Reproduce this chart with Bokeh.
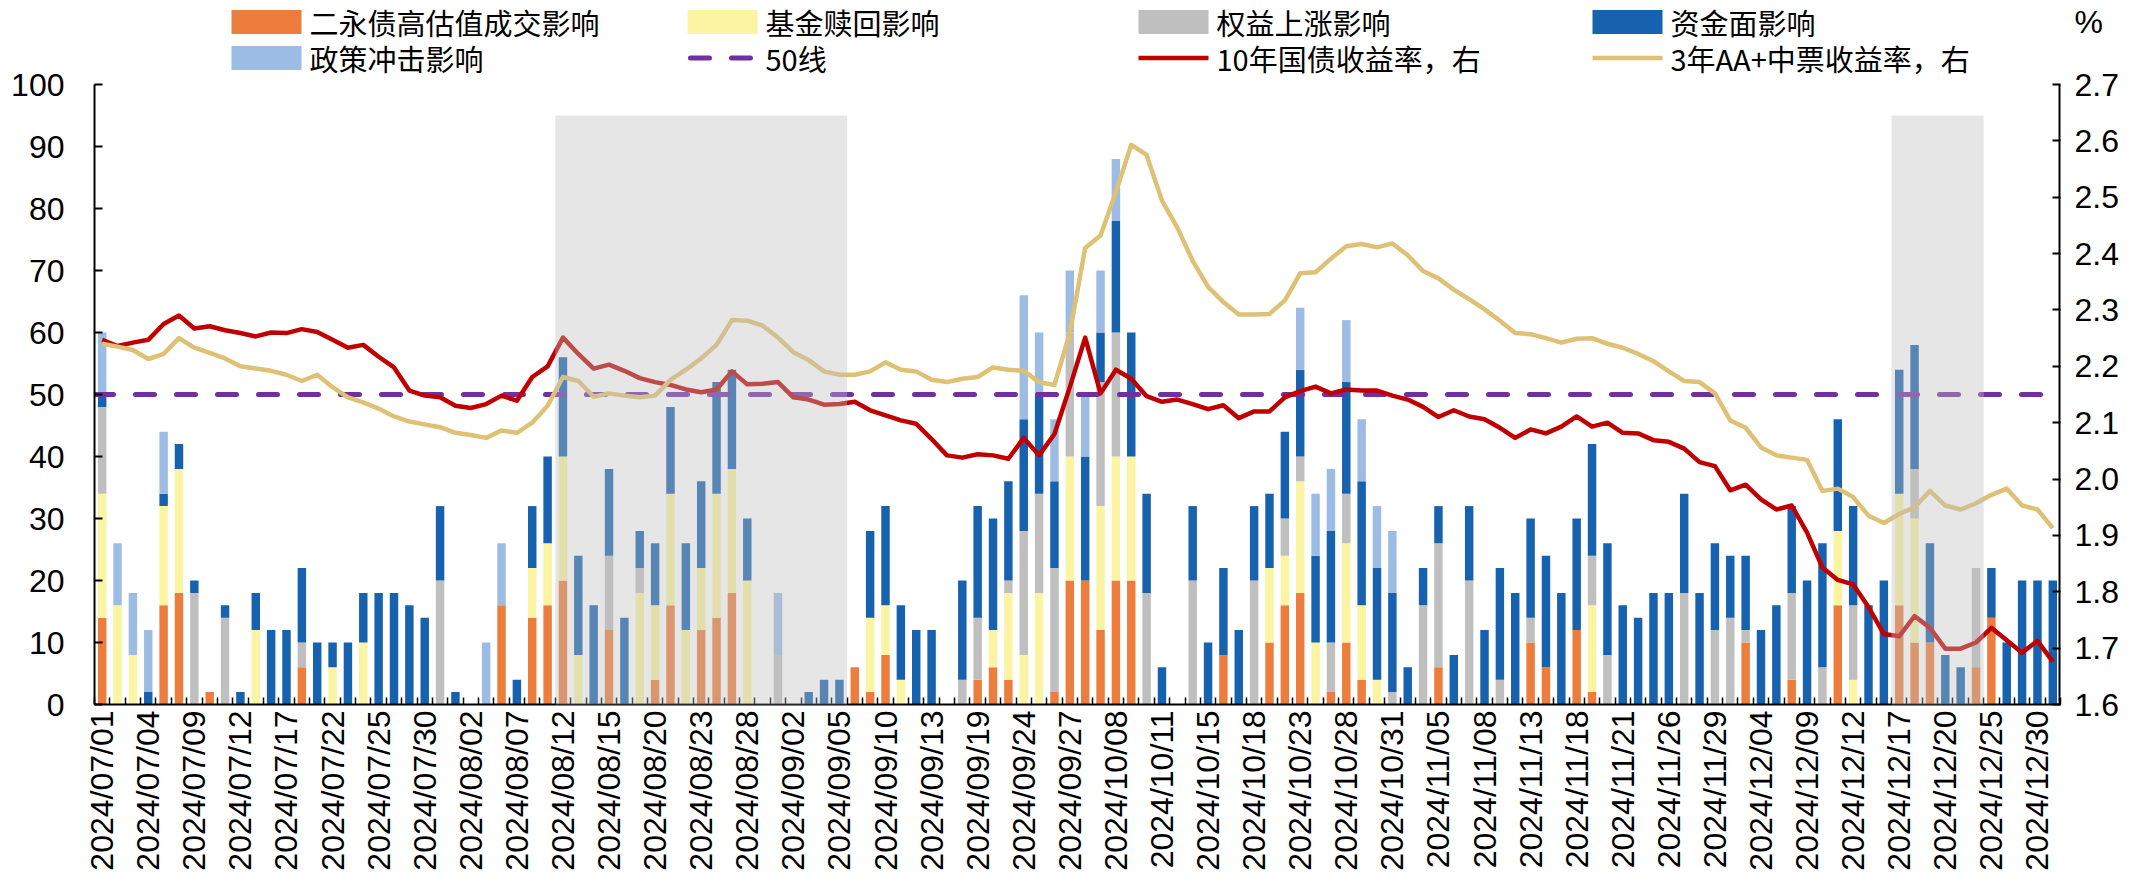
import math
from bokeh.plotting import figure
from bokeh.models import (ColumnDataSource, Range1d, LinearAxis, FixedTicker,
                          PrintfTickFormatter)
from bokeh.core.properties import value
from bokeh.embed import file_html
from bokeh.resources import INLINE

# ---------------- data ----------------
dates = (
    ["2024/07/%s" % d for d in ["01", "02", "03", "04", "05", "08", "09", "10", "11", "12", "15", "16", "17", "18", "19", "22", "23", "24", "25", "26", "29", "30", "31"]]
    + ["2024/08/%s" % d for d in ["01", "02", "05", "06", "07", "08", "09", "12", "13", "14", "15", "16", "19", "20", "21", "22", "23", "26", "27", "28", "29", "30"]]
    + ["2024/09/%s" % d for d in ["02", "03", "04", "05", "06", "09", "10", "11", "12", "13", "14", "18", "19", "20", "23", "24", "25", "26", "27", "29", "30"]]
    + ["2024/10/%s" % d for d in ["08", "09", "10", "11", "12", "14", "15", "16", "17", "18", "21", "22", "23", "24", "25", "28", "29", "30", "31"]]
    + ["2024/11/%s" % d for d in ["01", "04", "05", "06", "07", "08", "11", "12", "13", "14", "15", "18", "19", "20", "21", "22", "25", "26", "27", "28", "29"]]
    + ["2024/12/%s" % d for d in ["02", "03", "04", "05", "06", "09", "10", "11", "12", "13", "16", "17", "18", "19", "20", "23", "24", "25", "26", "27", "30", "31"]]
)

# 二永债高估值成交影响
erb_trade = [14, 0, 0, 0, 16, 18, 0, 2, 0, 0,
             0, 0, 0, 6, 0, 0, 0, 0, 0, 0,
             0, 0, 0, 0, 0, 0, 16, 0, 14, 16,
             20, 0, 0, 12, 0, 0, 4, 16, 0, 12,
             14, 18, 0, 0, 0, 0, 0, 0, 0, 6,
             2, 8, 0, 0, 0, 0, 0, 4, 6, 4,
             0, 0, 2, 20, 20, 12, 20, 20, 0, 0,
             0, 0, 0, 8, 0, 0, 10, 16, 18, 0,
             2, 10, 4, 0, 0, 0, 0, 6, 0, 0,
             0, 0, 0, 10, 6, 0, 12, 2, 0, 0,
             0, 0, 0, 0, 0, 0, 0, 10, 0, 0,
             4, 0, 0, 16, 0, 0, 0, 16, 10, 10,
             0, 0, 6, 14, 0, 0, 0, 0]
# 基金赎回影响
fund_redeem = [20, 16, 8, 0, 16, 20, 0, 0, 0, 0,
               12, 0, 0, 0, 0, 6, 0, 10, 0, 0,
               0, 0, 0, 0, 0, 0, 0, 0, 8, 10,
               20, 8, 0, 0, 0, 18, 12, 18, 12, 10,
               20, 20, 20, 0, 0, 0, 0, 0, 0, 0,
               12, 8, 4, 0, 0, 0, 0, 0, 6, 14,
               8, 18, 0, 20, 0, 20, 20, 20, 0, 0,
               0, 0, 0, 0, 0, 0, 12, 8, 18, 10,
               0, 16, 12, 4, 0, 0, 0, 0, 0, 0,
               0, 0, 0, 0, 0, 0, 0, 14, 0, 0,
               0, 0, 0, 0, 0, 0, 0, 0, 0, 0,
               0, 0, 0, 12, 4, 0, 0, 18, 20, 0,
               0, 0, 0, 0, 0, 0, 0, 0]
# 权益上涨影响
equity_rise = [14, 0, 0, 0, 0, 0, 18, 0, 14, 0,
               0, 0, 0, 4, 0, 0, 0, 0, 0, 0,
               0, 0, 20, 0, 0, 0, 0, 0, 0, 0,
               0, 0, 0, 12, 0, 4, 0, 0, 0, 0,
               0, 0, 0, 0, 8, 0, 0, 0, 0, 0,
               0, 0, 0, 0, 0, 0, 4, 10, 0, 2,
               20, 16, 20, 20, 0, 20, 20, 0, 18, 0,
               0, 20, 0, 0, 0, 20, 0, 6, 4, 0,
               8, 8, 0, 0, 2, 0, 16, 20, 0, 20,
               0, 4, 0, 4, 0, 0, 0, 8, 8, 0,
               0, 0, 0, 18, 0, 12, 14, 2, 0, 0,
               14, 0, 6, 0, 12, 0, 0, 0, 8, 0,
               0, 0, 16, 0, 0, 0, 0, 0]
# 资金面影响
liquidity = [2, 0, 0, 2, 2, 4, 2, 0, 2, 2,
             6, 12, 12, 12, 10, 4, 10, 8, 18, 18,
             16, 14, 12, 2, 0, 0, 0, 4, 10, 14,
             16, 16, 16, 14, 14, 6, 10, 14, 14, 14,
             18, 16, 10, 0, 0, 0, 2, 4, 4, 0,
             14, 16, 12, 12, 12, 0, 16, 18, 18, 16,
             18, 16, 14, 0, 20, 8, 18, 20, 16, 6,
             0, 12, 10, 14, 12, 12, 12, 14, 14, 14,
             18, 18, 20, 18, 16, 6, 6, 6, 8, 12,
             12, 18, 18, 16, 18, 18, 18, 18, 18, 16,
             14, 18, 18, 16, 18, 14, 10, 12, 12, 16,
             14, 20, 20, 18, 16, 16, 20, 20, 20, 16,
             8, 6, 0, 8, 10, 20, 20, 20]
# 政策冲击影响
policy_shock = [10, 10, 10, 10, 10, 0, 0, 0, 0, 0,
                0, 0, 0, 0, 0, 0, 0, 0, 0, 0,
                0, 0, 0, 0, 0, 10, 10, 0, 0, 0,
                0, 0, 0, 0, 0, 0, 0, 0, 0, 0,
                0, 0, 0, 0, 10, 0, 0, 0, 0, 0,
                0, 0, 0, 0, 0, 0, 0, 0, 0, 0,
                20, 10, 10, 10, 10, 10, 10, 0, 0, 0,
                0, 0, 0, 0, 0, 0, 0, 0, 10, 10,
                10, 10, 10, 10, 10, 0, 0, 0, 0, 0,
                0, 0, 0, 0, 0, 0, 0, 0, 0, 0,
                0, 0, 0, 0, 0, 0, 0, 0, 0, 0,
                0, 0, 0, 0, 0, 0, 0, 0, 0, 0,
                0, 0, 0, 0, 0, 0, 0, 0]
# 10年国债收益率（右轴, %）
cgb10y = [2.247, 2.236, 2.242, 2.247, 2.275, 2.290, 2.267, 2.271, 2.264, 2.259,
          2.253, 2.260, 2.259, 2.266, 2.261, 2.247, 2.233, 2.238, 2.217, 2.198,
          2.157, 2.148, 2.145, 2.130, 2.126, 2.133, 2.148, 2.139, 2.181, 2.200,
          2.251, 2.222, 2.196, 2.203, 2.192, 2.179, 2.172, 2.167, 2.159, 2.154,
          2.159, 2.191, 2.168, 2.169, 2.172, 2.145, 2.141, 2.132, 2.133, 2.137,
          2.122, 2.113, 2.104, 2.098, 2.071, 2.042, 2.038, 2.044, 2.042, 2.036,
          2.073, 2.042, 2.080, 2.163, 2.251, 2.152, 2.194, 2.178, 2.147, 2.137,
          2.141, 2.133, 2.124, 2.131, 2.108, 2.120, 2.120, 2.145, 2.156, 2.164,
          2.152, 2.159, 2.157, 2.157, 2.148, 2.141, 2.128, 2.110, 2.122, 2.111,
          2.106, 2.091, 2.073, 2.088, 2.081, 2.093, 2.111, 2.093, 2.100, 2.082,
          2.081, 2.069, 2.066, 2.054, 2.030, 2.023, 1.980, 1.990, 1.964, 1.946,
          1.953, 1.905, 1.843, 1.821, 1.813, 1.773, 1.725, 1.721, 1.757, 1.736,
          1.699, 1.699, 1.710, 1.736, 1.714, 1.692, 1.713, 1.676]
# 3年AA+中票收益率（右轴, %）
mtn3y = [2.240, 2.235, 2.229, 2.213, 2.222, 2.250, 2.233, 2.224, 2.214, 2.200,
         2.196, 2.192, 2.185, 2.174, 2.185, 2.163, 2.145, 2.136, 2.125, 2.111,
         2.102, 2.097, 2.092, 2.082, 2.078, 2.073, 2.086, 2.082, 2.100, 2.130,
         2.181, 2.174, 2.146, 2.152, 2.148, 2.145, 2.148, 2.176, 2.194, 2.214,
         2.238, 2.282, 2.281, 2.272, 2.251, 2.225, 2.211, 2.191, 2.185, 2.185,
         2.191, 2.207, 2.194, 2.191, 2.176, 2.172, 2.178, 2.181, 2.198, 2.194,
         2.192, 2.172, 2.167, 2.259, 2.410, 2.432, 2.509, 2.593, 2.575, 2.494,
         2.446, 2.387, 2.341, 2.314, 2.292, 2.292, 2.293, 2.317, 2.365, 2.367,
         2.391, 2.413, 2.417, 2.411, 2.418, 2.397, 2.369, 2.356, 2.336, 2.319,
         2.301, 2.281, 2.259, 2.257, 2.250, 2.242, 2.249, 2.250, 2.240, 2.233,
         2.222, 2.209, 2.191, 2.174, 2.172, 2.152, 2.104, 2.091, 2.056, 2.042,
         2.038, 2.034, 1.979, 1.983, 1.968, 1.935, 1.922, 1.938, 1.950, 1.979,
         1.953, 1.946, 1.957, 1.972, 1.983, 1.953, 1.946, 1.913]

threshold = 50
shade_periods = [("2024/08/12", "2024/09/05"), ("2024/12/17", "2024/12/24")]
shade_top = 95

left_ticks = list(range(0, 101, 10))
right_ticks = [1.6, 1.7, 1.8, 1.9, 2.0, 2.1, 2.2, 2.3, 2.4, 2.5, 2.6, 2.7]

series_keys = ["erb", "fund", "equity", "liq", "policy"]
series_names = ["二永债高估值成交影响", "基金赎回影响", "权益上涨影响", "资金面影响", "政策冲击影响"]
series_colors = ["#EC7D3C", "#FAF4A3", "#BFBFBF", "#1762AE", "#9CBCE3"]
line_names = ["50线", "10年国债收益率，右", "3年AA+中票收益率，右"]
PURPLE, RED, GOLD = "#7030A0", "#C00000", "#DEC175"

# ---------------- layout constants (canvas px) ----------------
TICK_FONT = "Liberation Sans"
CJK_FONT = "Noto Sans CJK SC"
W, H = 2126, 875
BORDER_L, BORDER_R = 94, 66
FRAME_BOTTOM = 704          # frame spans canvas y 0..704 (legend lives in its top part)
PX_AXIS_TOP = 84            # canvas y of the value 100 / 2.7
plot_px = FRAME_BOTTOM - PX_AXIS_TOP
left_lo, left_hi = left_ticks[0], left_ticks[-1]
right_lo, right_hi = right_ticks[0], right_ticks[-1]
left_top = left_lo + (left_hi - left_lo) * FRAME_BOTTOM / plot_px
right_top = right_lo + (right_hi - right_lo) * FRAME_BOTTOM / plot_px

n = len(dates)
idx = list(range(n))
src = ColumnDataSource(dict(x=idx, erb=erb_trade, fund=fund_redeem, equity=equity_rise,
                            liq=liquidity, policy=policy_shock, cgb=cgb10y, mtn=mtn3y))

p = figure(width=W, height=H, x_range=Range1d(-0.5, n - 0.5), y_range=Range1d(left_lo, left_top),
           output_backend="svg", toolbar_location=None,
           min_border_left=BORDER_L, min_border_right=BORDER_R,
           min_border_top=0, min_border_bottom=H - FRAME_BOTTOM)
p.extra_y_ranges = {"right": Range1d(right_lo, right_top), "py": Range1d(FRAME_BOTTOM, 0)}
p.extra_x_ranges = {"px": Range1d(BORDER_L, W - BORDER_R)}
p.outline_line_color = None
p.grid.visible = False

# ---------------- marks ----------------
p.vbar_stack(series_keys, x="x", width=0.55, fill_color=series_colors,
             line_color=None, source=src)
p.line(x=[idx[0] - 0.5, idx[-1] + 0.5], y=[threshold, threshold],
       line_color=PURPLE, line_width=5, line_dash="19 22", line_cap="round")
p.line(x="x", y="cgb", source=src, y_range_name="right",
       line_color=RED, line_width=4.5, line_join="round")
p.line(x="x", y="mtn", source=src, y_range_name="right",
       line_color=GOLD, line_width=4.5, line_join="round")

shade_left = [dates.index(s) - 0.5 for s, _ in shade_periods]
shade_right = [dates.index(e) + 0.5 for _, e in shade_periods]
p.quad(left=shade_left, right=shade_right, bottom=0, top=shade_top,
       fill_color="#BFBFBF", fill_alpha=0.39, line_color=None, level="overlay")

# right axis line (limited to the 1.6-2.7 span)
p.segment(x0=[n - 0.5], y0=[right_lo], x1=[n - 0.5], y1=[right_hi], y_range_name="right",
          line_color="black", line_width=4)

# ---------------- legend (pixel ranges, top of frame) ----------------
col_x = [231, 687, 1138, 1592]      # swatch left edges, px
row_y = [21.5, 57.5]                # row centres, px
SW, SH, GAP = 70, 24, 8
slots = [(c, r) for r in range(2) for c in range(4)]
labels = series_names[:4] + [series_names[4]] + line_names
lk = dict(x_range_name="px", y_range_name="py")

rect_slots = slots[:5]
p.rect(x=[col_x[c] + SW / 2 for c, r in rect_slots], y=[row_y[r] for c, r in rect_slots],
       width=SW, height=SH, fill_color=series_colors, line_color=None, **lk)
(c5, r5), (c6, r6), (c7, r7) = slots[5], slots[6], slots[7]
p.segment(x0=[col_x[c5] + 3], y0=[row_y[r5]], x1=[col_x[c5] + SW], y1=[row_y[r5]],
          line_color=PURPLE, line_width=5, line_dash="19 22", line_cap="round", **lk)
p.segment(x0=[col_x[c6], col_x[c7]], y0=[row_y[r6], row_y[r7]],
          x1=[col_x[c6] + SW, col_x[c7] + SW], y1=[row_y[r6], row_y[r7]],
          line_color=[RED, GOLD], line_width=4.5, **lk)
p.text(x=[col_x[c] + SW + GAP for c, r in slots], y=[row_y[r] for c, r in slots],
       text=labels, text_font=value(CJK_FONT), text_font_size="29px",
       text_baseline="middle", text_align="left", text_color="black", **lk)

# ---------------- axes ----------------
xa = p.xaxis[0]
xa.ticker = FixedTicker(ticks=idx[::3], minor_ticks=[i - 0.5 for i in range(n + 1)])
xa.major_label_overrides = {i: dates[i] for i in idx[::3]}
xa.major_label_orientation = math.pi / 2
xa.major_tick_in = 0
xa.major_tick_out = 0
xa.minor_tick_in = 7
xa.minor_tick_out = 0
xa.minor_tick_line_color = "black"
xa.minor_tick_line_width = 1.5
xa.major_label_standoff = 6

ya = p.yaxis[0]
ya.ticker = FixedTicker(ticks=left_ticks)
ya.bounds = (left_lo, left_hi)
ya.major_label_standoff = 30
ya.major_tick_in = 8
ya.major_tick_out = 0
ya.major_tick_line_width = 2
ya.major_tick_line_color = "black"

# right axis: numeric labels + the "%" unit label at the legend row height;
# tick marks drawn as minor ticks so that the unit label gets no tick mark
pct_pos = right_lo + (right_hi - right_lo) * (FRAME_BOTTOM - row_y[0]) / plot_px
ra = LinearAxis(y_range_name="right",
                ticker=FixedTicker(ticks=right_ticks + [pct_pos], minor_ticks=right_ticks),
                formatter=PrintfTickFormatter(format="%.1f"))
ra.major_label_overrides = {pct_pos: "%"}
ra.axis_line_color = None
ra.major_tick_line_color = None
ra.minor_tick_in = 8
ra.minor_tick_out = 0
ra.minor_tick_line_width = 2
ra.minor_tick_line_color = "black"
ra.major_label_standoff = 8
p.add_layout(ra, "right")

for ax in [xa, ya]:
    ax.axis_line_color = "black"
    ax.axis_line_width = 2
for ax in [xa, ya, ra]:
    ax.major_label_text_font = TICK_FONT
    ax.major_label_text_font_size = "32px"
    ax.major_label_text_color = "black"

open("out.html", "w").write(file_html(p, INLINE))
